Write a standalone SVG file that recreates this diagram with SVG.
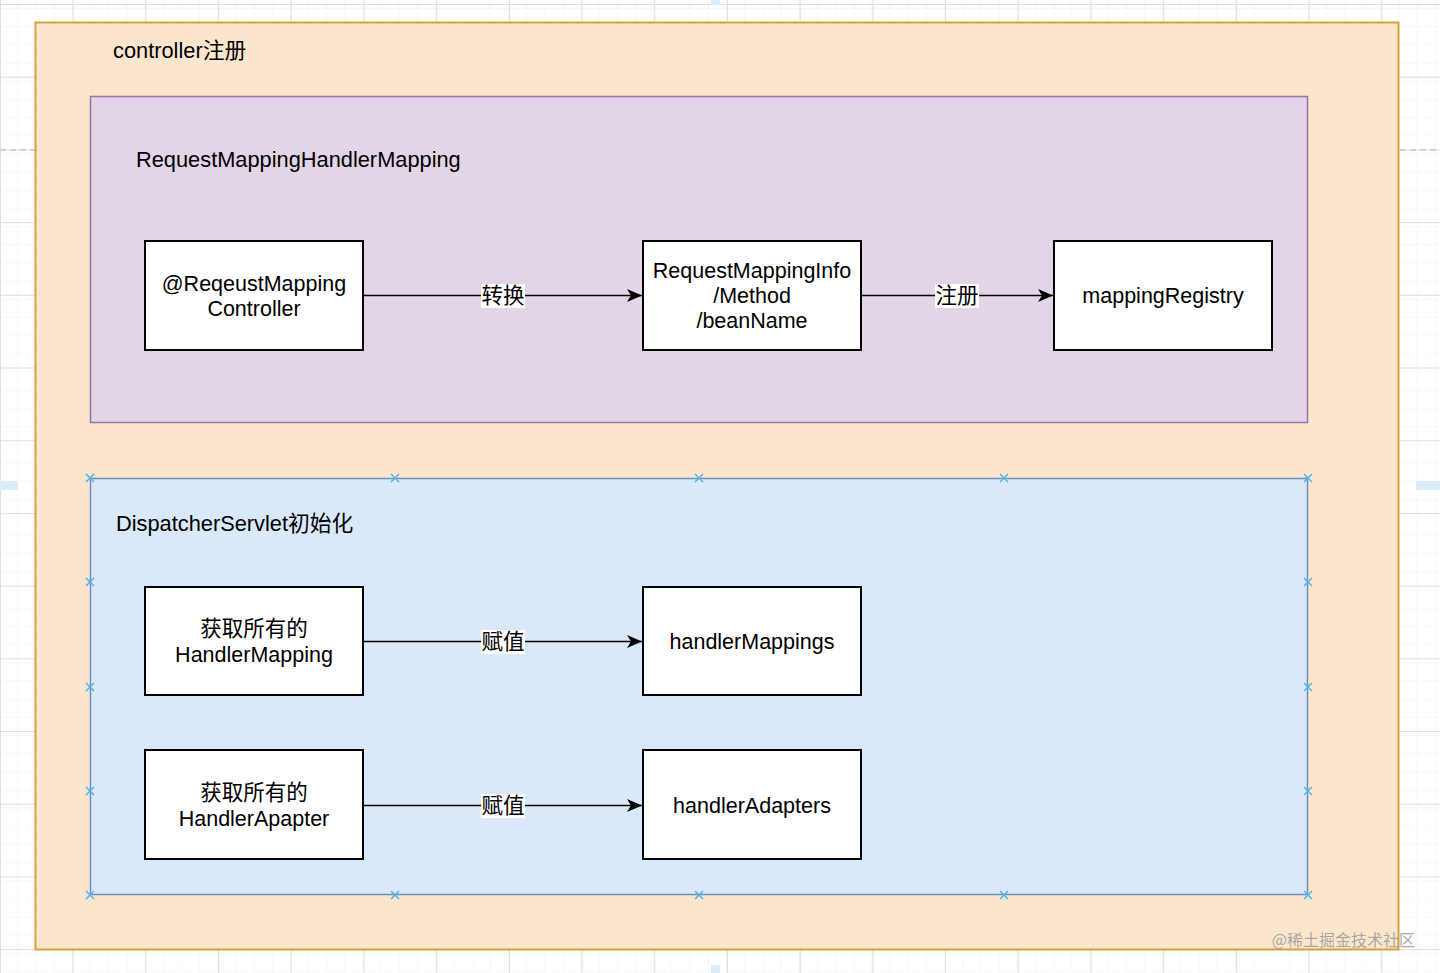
<svg xmlns="http://www.w3.org/2000/svg" width="1440" height="973" viewBox="0 0 1440 973">
<defs>
<pattern id="minor" patternUnits="userSpaceOnUse" x="0" y="4" width="18.175" height="18.175">
<path d="M18.175 0V18.175M0 0H18.175" fill="none" stroke="#f0f0f0" stroke-width="1"/>
</pattern>
<pattern id="major" patternUnits="userSpaceOnUse" x="0" y="4" width="72.7" height="72.7">
<rect width="72.7" height="72.7" fill="url(#minor)"/>
<path d="M0 0.5H72.7M0.5 0V72.7" fill="none" stroke="#dedede" stroke-width="1"/>
</pattern>
<marker id="arr" markerWidth="16" markerHeight="14" refX="15" refY="7" orient="auto" markerUnits="userSpaceOnUse">
<path d="M0 0.5L15 7L0 13.5L4 7Z" fill="#000"/>
</marker>
<g id="hx"><path d="M-4 -4L4 4M-4 4L4 -4" stroke="#4fb3ea" stroke-width="1.5" fill="none"/></g>
</defs>
<style>
.t{font-family:"Liberation Sans","Noto Sans CJK SC",sans-serif;font-size:21.5px;fill:#000}
.h{font-size:21.8px}
.c{text-anchor:middle}
.node{fill:#fff;stroke:#000;stroke-width:2}
.edge{fill:none;stroke:#000;stroke-width:1.6}
.lbl{fill:#fff}
</style>
<rect width="1440" height="973" fill="#fff"/>
<rect width="1440" height="973" fill="url(#major)"/>
<!-- drawio ui remnants -->
<path d="M0 150H35M1400 150H1440" stroke="#c8c8c8" stroke-width="1.5" stroke-dasharray="6 4"/>
<rect x="0" y="481" width="18" height="9" fill="#dcedf9"/>
<rect x="1416" y="481" width="24" height="9" fill="#dcedf9"/>
<rect x="711" y="0" width="9" height="5" fill="#dcedf9"/>
<rect x="711" y="965" width="9" height="8" fill="#dcedf9"/>

<g id="controller-register">
<rect x="35.5" y="22.5" width="1363" height="927" fill="#fbe6cd" stroke="#d6a23a" stroke-width="2"/>
<text class="t h" x="113" y="58">controller注册</text>
</g>
<g id="request-mapping-handler-mapping">
<rect x="90.5" y="96.5" width="1217" height="326" fill="#e1d5e7" stroke="#9673a6" stroke-width="1.5"/>
<text class="t h" x="136" y="167">RequestMappingHandlerMapping</text>
</g>
<g id="dispatcher-servlet-init">
<rect x="90.5" y="478.5" width="1217" height="416" fill="#dae8fc" stroke="#6c8ebf" stroke-width="1.5"/>
<text class="t h" x="116" y="531">DispatcherServlet初始化</text>
<use href="#hx" x="90" y="478"/><use href="#hx" x="395" y="478"/><use href="#hx" x="699" y="478"/><use href="#hx" x="1004" y="478"/><use href="#hx" x="1308" y="478"/>
<use href="#hx" x="90" y="895"/><use href="#hx" x="395" y="895"/><use href="#hx" x="699" y="895"/><use href="#hx" x="1004" y="895"/><use href="#hx" x="1308" y="895"/>
<use href="#hx" x="90" y="582"/><use href="#hx" x="90" y="687"/><use href="#hx" x="90" y="791"/>
<use href="#hx" x="1308" y="582"/><use href="#hx" x="1308" y="687"/><use href="#hx" x="1308" y="791"/>
</g>

<g id="connectors">
<path class="edge" d="M363 295.5H642" marker-end="url(#arr)"/>
<rect class="lbl" x="481" y="284" width="44" height="24"/>
<text class="t c" x="503" y="303">转换</text>
<path class="edge" d="M861 295.5H1053" marker-end="url(#arr)"/>
<rect class="lbl" x="935" y="284" width="44" height="24"/>
<text class="t c" x="957" y="303">注册</text>
<path class="edge" d="M363 641.5H642" marker-end="url(#arr)"/>
<rect class="lbl" x="481" y="630" width="44" height="24"/>
<text class="t c" x="503" y="649">赋值</text>
<path class="edge" d="M363 805.5H642" marker-end="url(#arr)"/>
<rect class="lbl" x="481" y="794" width="44" height="24"/>
<text class="t c" x="503" y="813">赋值</text>
</g>

<g id="node-controller">
<rect class="node" x="145" y="241" width="218" height="109"/>
<text class="t c" x="254" y="291">@ReqeustMapping</text>
<text class="t c" x="254" y="316">Controller</text>
</g>
<g id="node-mapping-info">
<rect class="node" x="643" y="241" width="218" height="109"/>
<text class="t c" x="752" y="278">RequestMappingInfo</text>
<text class="t c" x="752" y="303">/Method</text>
<text class="t c" x="752" y="328">/beanName</text>
</g>
<g id="node-mapping-registry">
<rect class="node" x="1054" y="241" width="218" height="109"/>
<text class="t c" x="1163" y="303">mappingRegistry</text>
</g>
<g id="node-get-handler-mapping">
<rect class="node" x="145" y="587" width="218" height="108"/>
<text class="t c" x="254" y="636">获取所有的</text>
<text class="t c" x="254" y="662">HandlerMapping</text>
</g>
<g id="node-handler-mappings">
<rect class="node" x="643" y="587" width="218" height="108"/>
<text class="t c" x="752" y="649">handlerMappings</text>
</g>
<g id="node-get-handler-adapter">
<rect class="node" x="145" y="750" width="218" height="109"/>
<text class="t c" x="254" y="800">获取所有的</text>
<text class="t c" x="254" y="826">HandlerApapter</text>
</g>
<g id="node-handler-adapters">
<rect class="node" x="643" y="750" width="218" height="109"/>
<text class="t c" x="752" y="813">handlerAdapters</text>
</g>
<text x="1415" y="946" text-anchor="end" font-family="'Noto Sans CJK SC','Liberation Sans',sans-serif" font-size="16" fill="#9a9a9a" fill-opacity="0.85">@稀土掘金技术社区</text>
</svg>
